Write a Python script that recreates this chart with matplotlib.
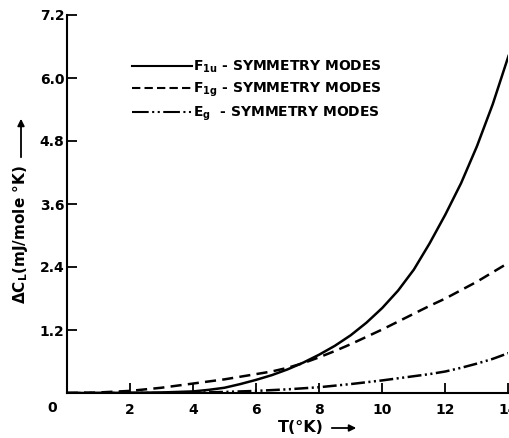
import matplotlib
matplotlib.use('Agg')
import matplotlib.pyplot as plt
from matplotlib.lines import Line2D

plt.rcParams['font.family'] = ['DejaVu Sans']
plt.rcParams['font.weight'] = 'bold'
plt.rcParams['mathtext.fontset'] = 'custom'
plt.rcParams['mathtext.rm'] = 'DejaVu Sans:bold'
plt.rcParams['mathtext.bf'] = 'DejaVu Sans:bold'
plt.rcParams['mathtext.it'] = 'DejaVu Sans:bold'
plt.rcParams['lines.scale_dashes'] = False

# temperature (K) and excess lattice specific heat (mJ/mole K)
T_f1u = [0, 1, 2, 3, 4, 4.5, 5, 5.5, 6, 6.5, 7, 7.5, 8, 8.5, 9, 9.5, 10,
         10.5, 11, 11.5, 12, 12.5, 13, 13.5, 14]
f1u = [0, 0, 0.005, 0.01, 0.03, 0.06, 0.1, 0.17, 0.25, 0.34, 0.45, 0.58, 0.73,
       0.9, 1.1, 1.34, 1.62, 1.95, 2.35, 2.85, 3.4, 4.0, 4.7, 5.5, 6.42]
T_f1g = [0, 1, 2, 3, 4, 5, 5.5, 6, 6.5, 7, 7.5, 8, 8.5, 9, 9.5, 10,
         10.5, 11, 11.5, 12, 12.5, 13, 13.5, 14]
f1g = [0, 0.01, 0.04, 0.1, 0.18, 0.26, 0.31, 0.36, 0.41, 0.48, 0.57, 0.68, 0.8,
       0.93, 1.07, 1.21, 1.36, 1.51, 1.66, 1.8, 1.96, 2.12, 2.3, 2.48]
T_eg = [0, 1, 2, 3, 4, 5, 6, 7, 8, 9, 10, 10.5, 11, 11.5, 12, 12.5, 13, 13.5, 14]
eg = [0, 0, 0, 0, 0.005, 0.02, 0.04, 0.07, 0.11, 0.17, 0.24, 0.28, 0.32, 0.36,
      0.41, 0.48, 0.56, 0.65, 0.76]

labels = [r'F$_{1u}$ - SYMMETRY MODES',
          r'F$_{1g}$ - SYMMETRY MODES',
          r'E$_{g}$  - SYMMETRY MODES']
xticks = [2, 4, 6, 8, 10, 12, 14]
yticks = [1.2, 2.4, 3.6, 4.8, 6.0, 7.2]

W, H = 510, 438
fig = plt.figure(figsize=(W / 100, H / 100), dpi=100)
ax = fig.add_axes([66.7 / W, 1 - 393 / H, (508.5 - 66.7) / W, (393 - 15) / H])

lw = 1.8
ax.plot(T_f1u, f1u, color='k', lw=lw, linestyle='-')
ax.plot(T_f1g, f1g, color='k', lw=lw, linestyle=(0, (8, 4.5)))
ax.plot(T_eg, eg, color='k', lw=lw, linestyle=(0, (10, 2.5, 1.5, 2.5, 1.5, 2.5)))

ax.set_xlim(0, 14)
ax.set_ylim(0, 7.2)
ax.set_xticks(xticks)
ax.set_xticklabels([str(v) for v in xticks])
ax.set_yticks(yticks)
ax.set_yticklabels(['%.1f' % v for v in yticks])
for s in ['top', 'right']:
    ax.spines[s].set_visible(False)
for s in ['left', 'bottom']:
    ax.spines[s].set_linewidth(1.5)
ax.tick_params(axis='both', direction='in', length=7, width=1.3, labelsize=10)
ax.tick_params(axis='x', pad=7)
ax.tick_params(axis='y', pad=1.5)
ax.annotate('0', xy=(0, 0), xytext=(-15, -15), textcoords='offset pixels',
            ha='center', va='center', fontsize=10, fontweight='bold')

handles = [Line2D([], [], color='k', lw=1.5, linestyle='-'),
           Line2D([], [], color='k', lw=1.5, linestyle=(0, (6, 3))),
           Line2D([], [], color='k', lw=1.5, linestyle=(0, (12, 2.5, 1.5, 2.5, 1.5, 2.5)))]
ax.legend(handles, labels, loc='upper left', bbox_to_anchor=(132 / W, 1 - 59 / H),
          bbox_transform=fig.transFigure, frameon=False, fontsize=10,
          handlelength=4.3, handletextpad=0.1, labelspacing=0.4,
          borderpad=0, borderaxespad=0)

# axis labels with arrows
fig.text(21 / W, 1 - 235 / H, r'$\Delta$C$_L$(mJ/mole °K)', rotation=90,
         ha='center', va='center', fontsize=11, fontweight='bold')
ax.annotate('', xy=(21 / W, 1 - 116 / H), xytext=(21 / W, 1 - 160 / H),
            xycoords='figure fraction', textcoords='figure fraction',
            arrowprops=dict(arrowstyle='-|>', color='k', lw=1.3, mutation_scale=10))
fig.text(301 / W, 1 - 427 / H, 'T(°K)', ha='center', va='center',
         fontsize=11.5, fontweight='bold')
ax.annotate('', xy=(359 / W, 1 - 428 / H), xytext=(329 / W, 1 - 428 / H),
            xycoords='figure fraction', textcoords='figure fraction',
            arrowprops=dict(arrowstyle='-|>', color='k', lw=1.3, mutation_scale=10))

fig.savefig('out.png', dpi=100)
